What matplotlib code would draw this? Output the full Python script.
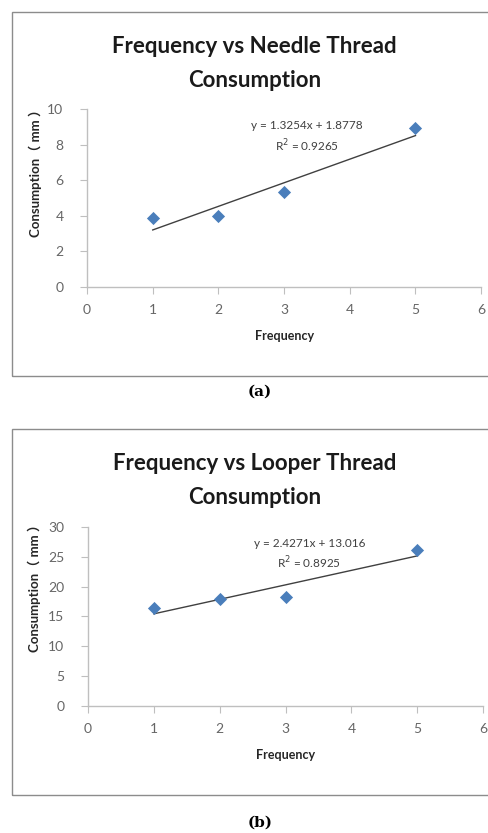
import numpy as np
import matplotlib.pyplot as plt
from matplotlib.patches import Rectangle

# data
freq = [1, 2, 3, 5]
needle = [3.9, 4.0, 5.35, 8.95]
looper = [16.5, 17.9, 18.3, 26.1]

needle_fit = (1.3254, 1.8778)
looper_fit = (2.4271, 13.016)
needle_txt = ['y = 1.3254x + 1.8778', 'R$^2$ = 0.9265']
looper_txt = ['y = 2.4271x + 13.016', 'R$^2$ = 0.8925']

xticks = [0, 1, 2, 3, 4, 5, 6]
needle_yticks = [0, 2, 4, 6, 8, 10]
looper_yticks = [0, 5, 10, 15, 20, 25, 30]

plt.rcParams['font.family'] = ['Lato', 'Noto Sans CJK SC', 'DejaVu Sans']

fig = plt.figure(figsize=(4.89, 8.33), dpi=100)

blue = '#4a7ebb'
grey = '#666666'
spine = '#bfbfbf'


def panel(rect, box, title, x, y, fit, txt, yticks, txtpos, cap, cap_y,
          title_y, ylab_pos):
    fig.add_artist(Rectangle((box[0], box[1]), 1.05 - box[0], box[2] - box[1],
                             transform=fig.transFigure, fill=False,
                             edgecolor='#8c8c8c', linewidth=1.0))
    ax = fig.add_axes(rect)
    fx = np.array([min(x), max(x)])
    ax.plot(fx, fit[0] * fx + fit[1], color='#404040', linewidth=1.0, zorder=2)
    ax.scatter(x, y, marker='D', s=45, color=blue, zorder=3, linewidths=0)
    ax.set_xlim(0, 6)
    ax.set_ylim(yticks[0], yticks[-1])
    ax.set_xticks(xticks)
    ax.set_yticks(yticks)
    for s in ['top', 'right']:
        ax.spines[s].set_visible(False)
    for s in ['left', 'bottom']:
        ax.spines[s].set_color(spine)
        ax.spines[s].set_linewidth(1.0)
    ax.tick_params(colors=spine, labelcolor=grey, labelsize=10, length=5,
                   direction='out')
    ax.tick_params(axis='x', pad=7)
    ax.tick_params(axis='y', pad=12)
    ax.set_xlabel('Frequency', fontsize=9, fontweight='bold', color='#262626',
                  labelpad=10)
    ax.set_ylabel('Consumption（ mm ）', fontsize=9.5, fontweight='bold',
                  color='#262626')
    ax.yaxis.set_label_coords(ylab_pos[0], ylab_pos[1])
    ax.text(txtpos[0], txtpos[1], txt[0], ha='center', va='center',
            fontsize=8.5, color='#404040')
    ax.text(txtpos[0], txtpos[2], txt[1], ha='center', va='center',
            fontsize=8.5, color='#404040')
    fig.text(0.52, title_y, title, ha='center', va='center', fontsize=16,
             fontweight='bold', color='#1a1a1a', linespacing=1.8)
    fig.text(0.532, cap_y, cap, ha='center', va='center', fontsize=11,
             fontweight='bold', family='DejaVu Serif')
    return ax


panel([0.178, 0.6555, 0.806, 0.2137], (0.0245, 0.5486, 0.9856),
      'Frequency vs Needle Thread\nConsumption', freq, needle, needle_fit,
      needle_txt, needle_yticks, (3.35, 9.05, 7.92), '(a)', 1 - 392 / 833,
      1 - 63.5 / 833, (-0.115, 0.66))

panel([0.180, 0.1525, 0.808, 0.2149], (0.0245, 0.0456, 0.485),
      'Frequency vs Looper Thread\nConsumption', freq, looper, looper_fit,
      looper_txt, looper_yticks, (3.36, 27.3, 24.0), '(b)', 1 - 823 / 833,
      1 - 480.5 / 833, (-0.118, 0.675))

fig.savefig('out.png', dpi=100, facecolor='white')
